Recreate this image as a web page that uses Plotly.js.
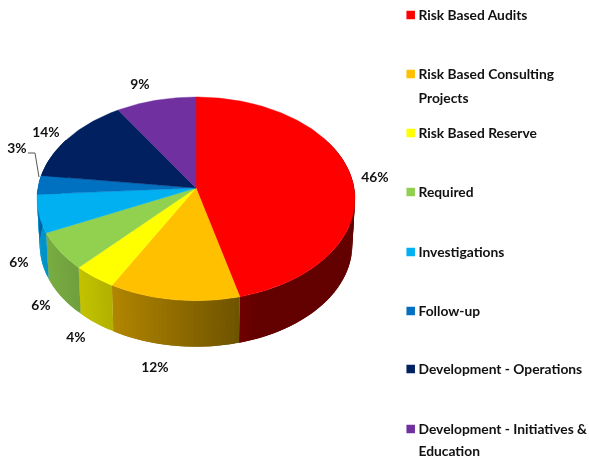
<!DOCTYPE html>
<html>
<head>
<meta charset="utf-8">
<script src="https://cdn.plot.ly/plotly-3.0.1.min.js"></script>
<style>html,body{margin:0;padding:0;background:#fff;overflow:hidden}#chart{width:589px;height:458px;filter:blur(0.45px)}</style>
</head>
<body>
<div id="chart"></div>
<script>
// Data
const categories = ["Risk Based Audits","Risk Based Consulting","Risk Based Reserve","Required","Investigations","Follow-up","Development - Operations","Development - Initiatives &"];
const continuationLines = ["Projects","Education"];
const values = [46,12,4,6,6,3,14,9];
const colors = ["#FF0000","#FFC000","#FFFF00","#92D050","#00B0F0","#0070C0","#002060","#7030A0"];

// Label / legend placement (pixels on a page-sized axis)
const valueLabelX = [375,155,76,41,19,17,46,140];
const valueLabelY = [178.5,368.5,338.5,306.5,263.5,149.5,133.5,85.5];
const legendRowY = [17,76,135,194,254,313,371,431];
const continuationRowY = [100,453];
const swatchRowY = [15,74,133,192,252,311,369,429];
const leaderX = [28,35,39];
const leaderY = [153,153,177];

// 3D pie geometry: a projective view of a disc, so the apex sits above the rim's centre
const apex = {x:196,y:188}, A = 158.1, B = 100.7, K = -0.1065, DEPTH = 46, BOTTOM_SCALE = 0.983;
function rim(deg, bottom){
  const t = deg*Math.PI/180, u = Math.sin(t), v = -Math.cos(t);
  const d = 1 + K*v;
  const X = A*u/d, Y = B*v/d;
  return bottom ? {x:apex.x+X*BOTTOM_SCALE, y:apex.y+Y+DEPTH} : {x:apex.x+X, y:apex.y+Y};
}
function shade(hex,f){
  const n = parseInt(hex.slice(1),16);
  return `rgb(${Math.round((n>>16&255)*f)},${Math.round((n>>8&255)*f)},${Math.round((n&255)*f)})`;
}
const total = values.reduce((a,b)=>a+b,0);
const starts = []; let cum = 0;
values.forEach(v=>{starts.push(cum/total*360); cum+=v;});

const traces = [];
// Side walls, built as overlapping narrow strips so the shading can vary without seams
const STEP = 1.5;
values.forEach((v,i)=>{
  const a0 = Math.max(starts[i],60), a1 = Math.min(starts[i]+v/total*360,300);
  for(let a=a0; a<a1; a+=STEP){
    const b = Math.min(a+STEP,a1), e = Math.min(a+STEP*2,a1);
    const p=[rim(a),rim(e),rim(e,true),rim(a,true)];
    const midX=(rim(a).x+rim(b).x)/2;
    const f=Math.max(0.39,Math.min(0.85,0.85-(midX-37)*0.00206));
    traces.push({type:"scatter",mode:"none",x:p.map(q=>q.x),y:p.map(q=>q.y),fill:"toself",fillcolor:shade(colors[i],f),hoverinfo:"skip"});
  }
});
// Top faces
values.forEach((v,i)=>{
  const xs=[apex.x], ys=[apex.y], a0=starts[i], a1=a0+v/total*360;
  for(let a=a0;;a+=1){
    const p=rim(Math.min(a,a1)); xs.push(p.x); ys.push(p.y);
    if(a>=a1)break;
  }
  xs.push(apex.x); ys.push(apex.y);
  traces.push({type:"scatter",mode:"lines",name:categories[i],x:xs,y:ys,fill:"toself",fillcolor:colors[i],line:{color:colors[i],width:0.4},hoverinfo:"name"});
});
const font={family:"Lato, 'Open Sans', sans-serif",size:13.8,color:"#111111",weight:700};
// Leader line for the 3% label
traces.push({type:"scatter",mode:"lines",x:leaderX,y:leaderY,line:{color:"#555555",width:1},hoverinfo:"skip"});
// Value labels
traces.push({type:"scatter",mode:"text",x:valueLabelX,y:valueLabelY,text:values.map(v=>v+"%"),textposition:"middle center",textfont:font,hoverinfo:"skip",cliponaxis:false});
// Legend
traces.push({type:"scatter",mode:"markers",x:swatchRowY.map(()=>410.7),y:swatchRowY,marker:{symbol:"square",size:8.5,color:colors,line:{width:0}},hoverinfo:"skip",cliponaxis:false});
traces.push({type:"scatter",mode:"text",x:legendRowY.map(()=>418.5),y:legendRowY,text:categories,textposition:"middle right",textfont:font,hoverinfo:"skip",cliponaxis:false});
traces.push({type:"scatter",mode:"text",x:continuationRowY.map(()=>418.5),y:continuationRowY,text:continuationLines,textposition:"middle right",textfont:font,hoverinfo:"skip",cliponaxis:false});

Plotly.newPlot("chart",traces,{
  width:589,height:458,margin:{l:0,r:0,t:0,b:0},showlegend:false,
  paper_bgcolor:"#fff",plot_bgcolor:"#fff",
  xaxis:{range:[0,589],visible:false,fixedrange:true},
  yaxis:{range:[458,0],visible:false,fixedrange:true}
},{displayModeBar:false});
</script>
</body>
</html>
